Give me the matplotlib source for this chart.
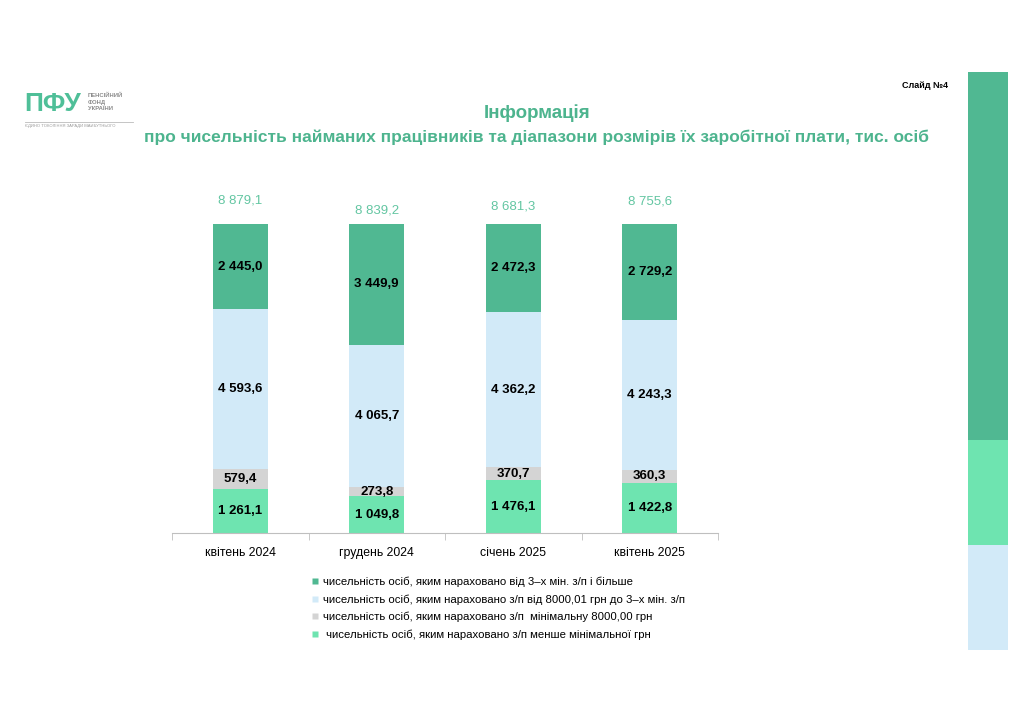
import numpy as np
import matplotlib
matplotlib.use("Agg")
import matplotlib.pyplot as plt
from matplotlib.patches import Rectangle
from matplotlib.lines import Line2D

plt.rcParams['font.family'] = ['Liberation Sans', 'DejaVu Sans']

# data, тис. осіб
months = ["квітень 2024", "грудень 2024", "січень 2025", "квітень 2025"]
below_min = [1261.1, 1049.8, 1476.1, 1422.8]
minimal = [579.4, 273.8, 370.7, 360.3]
mid_range = [4593.6, 4065.7, 4362.2, 4243.3]
three_plus = [2445.0, 3449.9, 2472.3, 2729.2]
totals = [8879.1, 8839.2, 8681.3, 8755.6]

legend_labels = [
    "чисельність осіб, яким нараховано від 3–х мін. з/п і більше",
    "чисельність осіб, яким нараховано з/п від 8000,01 грн до 3–х мін. з/п",
    "чисельність осіб, яким нараховано з/п  мінімальну 8000,00 грн",
    " чисельність осіб, яким нараховано з/п менше мінімальної грн",
]

c_dark = "#50B892"
c_light = "#D2EAF8"
c_grey = "#D4D4D4"
c_bright = "#6EE4B0"
c_title = "#4DB48E"

def fmt(v):
    s = f"{v:,.1f}".replace(",", " ").replace(".", ",")
    return s

fig = plt.figure(figsize=(10.24, 7.24), dpi=100)
ax = fig.add_axes([172/1024, 1 - 533/724, 546/1024, 309/724])

x = np.arange(len(months))
series = [below_min, minimal, mid_range, three_plus]
colors = [c_bright, c_grey, c_light, c_dark]
tot = np.array(totals)
bottom = np.zeros(len(months))
for vals, col in zip(series, colors):
    frac = np.array(vals) / tot
    ax.bar(x, frac, bottom=bottom, width=0.4, color=col, edgecolor='none')
    for i in range(len(months)):
        ax.text(x[i], bottom[i] + frac[i] / 2, fmt(vals[i]), ha='center', va='center',
                fontsize=9.5, fontweight='bold', color='black')
    bottom += frac

# totals above bars (slightly staggered as in source)
total_offsets = [0.075, 0.043, 0.056, 0.072]
for i in range(len(months)):
    ax.text(x[i], 1 + total_offsets[i], fmt(totals[i]), ha='center', va='center',
            fontsize=9.5, color="#63C6A2", clip_on=False)

ax.set_xlim(-0.5, 3.5)
ax.set_ylim(0, 1)
ax.set_yticks([])
for s in ['top', 'right', 'left']:
    ax.spines[s].set_visible(False)
ax.spines['bottom'].set_color('#BFBFBF')
ax.set_xticks(x)
ax.set_xticklabels(months, fontsize=8.8)
ax.set_xticks(np.arange(-0.5, 4, 1), minor=True)
ax.tick_params(axis='x', which='major', length=0, pad=10)
ax.tick_params(axis='x', which='minor', length=5, color='#BFBFBF')

# legend
handles = [Line2D([], [], marker='s', linestyle='none', markersize=5,
                  markerfacecolor=c, markeredgecolor='none')
           for c in [c_dark, c_light, c_grey, c_bright]]
fig.legend(handles, legend_labels, loc='upper left', bbox_to_anchor=(307/1024, 1 - 572/724),
           frameon=False, fontsize=8.2, handlelength=0.6, handletextpad=0.4,
           labelspacing=0.62, borderaxespad=0)

# title
fig.text(537/1024, 1 - 113/724, "Інформація", ha='center', va='center',
         fontsize=13.5, fontweight='bold', color=c_title)
fig.text(537/1024, 1 - 137/724,
         "про чисельність найманих працівників та діапазони розмірів їх заробітної плати, тис. осіб",
         ha='center', va='center', fontsize=12.5, fontweight='bold', color=c_title)

fig.text(948/1024, 1 - 85/724, "Слайд №4", ha='right', va='center', fontsize=6.5,
         fontweight='bold', color='black')

# logo
fig.text(24/1024, 1 - 104/724, "ПФУ", ha='left', va='center', fontsize=19,
         fontweight='bold', color="#4FBF98")
fig.text(88/1024, 1 - 102/724, "ПЕНСІЙНИЙ\nФОНД\nУКРАЇНИ", ha='left', va='center',
         fontsize=4.2, fontweight='bold', color='#8A8A8A', linespacing=1.3)
fig.add_artist(Line2D([25/1024, 133/1024], [1 - 122/724, 1 - 122/724],
                      color='#BBBBBB', linewidth=0.6))
fig.text(25/1024, 1 - 126/724, "ЄДИНО ТОКОЛІННЯ ЗАРАДИ МАЙБУТНЬОГО", ha='left', va='center',
         fontsize=3, color='#999999')

# right decorative stripe
fig.add_artist(Rectangle((968/1024, 1 - 440/724), 40/1024, 368/724,
                         transform=fig.transFigure, color=c_dark, linewidth=0))
fig.add_artist(Rectangle((968/1024, 1 - 545/724), 40/1024, 105/724,
                         transform=fig.transFigure, color=c_bright, linewidth=0))
fig.add_artist(Rectangle((968/1024, 1 - 650/724), 40/1024, 105/724,
                         transform=fig.transFigure, color=c_light, linewidth=0))

fig.savefig("out.png", dpi=100)
